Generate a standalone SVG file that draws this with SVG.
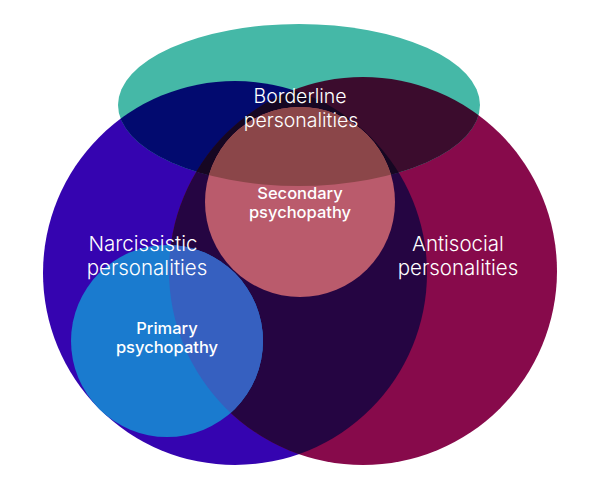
<svg xmlns="http://www.w3.org/2000/svg" width="602" height="492" viewBox="0 0 602 492">
<defs>
<clipPath id="cN"><circle cx="235" cy="273" r="192"/></clipPath>
<clipPath id="cA"><circle cx="363" cy="271" r="194"/></clipPath>
<clipPath id="cT"><ellipse cx="299" cy="105" rx="181" ry="81"/></clipPath>
<style>
.lbl{fill:#ffffff;font-family:Inter,"Liberation Sans",sans-serif;font-weight:300;text-anchor:middle}
.big{font-size:20.5px}
.bd{font-size:19.5px}
.sm{fill:#ffffff;font-family:Inter,"Liberation Sans",sans-serif;font-weight:500;font-size:16.5px;text-anchor:middle}
</style>
</defs>
<rect width="602" height="492" fill="#ffffff"/>
<g id="narcissistic">
<circle cx="235" cy="273" r="192" fill="#3504b0"/>
</g>
<g id="antisocial">
<circle cx="363" cy="271" r="194" fill="#870a4b"/>
<circle cx="363" cy="271" r="194" fill="#250542" clip-path="url(#cN)"/>
</g>
<g id="borderline">
<ellipse cx="299" cy="105" rx="181" ry="81" fill="#45b8a7"/>
<g clip-path="url(#cT)">
<circle cx="235" cy="273" r="192" fill="#020a6f"/>
<circle cx="363" cy="271" r="194" fill="#3b0c2d"/>
<g clip-path="url(#cN)"><circle cx="363" cy="271" r="194" fill="#160722"/></g>
</g>
</g>
<g id="secondary">
<circle cx="300" cy="202" r="95" fill="#ba5b6c"/>
<g clip-path="url(#cT)"><circle cx="300" cy="202" r="95" fill="#8b4649"/></g>
</g>
<g id="primary">
<circle cx="167" cy="341" r="96" fill="#1a7bcf"/>
<g clip-path="url(#cA)"><circle cx="167" cy="341" r="96" fill="#3660c0"/></g>
</g>
<g id="labels">
<text class="lbl bd" x="300" y="103">Borderline</text>
<text class="lbl bd" x="301" y="127">personalities</text>
<text class="lbl big" x="143" y="251">Narcissistic</text>
<text class="lbl big" x="147" y="275">personalities</text>
<text class="lbl big" x="458" y="251">Antisocial</text>
<text class="lbl big" x="458" y="275">personalities</text>
<text class="sm" x="300" y="199">Secondary</text>
<text class="sm" x="300" y="218">psychopathy</text>
<text class="sm" x="167" y="334">Primary</text>
<text class="sm" x="167" y="353">psychopathy</text>
</g>
<g id="connectors"></g>
</svg>
